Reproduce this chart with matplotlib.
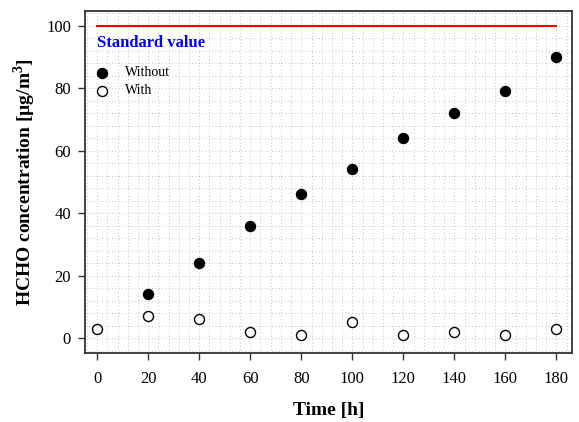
import numpy as np
import matplotlib.pyplot as plt

# HCHO concentration over time, with and without treatment
time_without = [20, 40, 60, 80, 100, 120, 140, 160, 180]
conc_without = [14, 24, 36, 46, 54, 64, 72, 79, 90]
time_with = [0, 20, 40, 60, 80, 100, 120, 140, 160, 180]
conc_with = [3, 7, 6, 2, 1, 5, 1, 2, 1, 3]
standard_x = [0, 180]
standard_value = 100
x_ticks = list(range(0, 181, 20))
y_ticks = list(range(0, 101, 20))

plt.rcParams['font.family'] = ['Liberation Serif', 'DejaVu Serif']
plt.rcParams['mathtext.fontset'] = 'custom'
plt.rcParams['mathtext.rm'] = 'Liberation Serif:bold'
plt.rcParams['mathtext.bf'] = 'Liberation Serif:bold'

fig = plt.figure(figsize=(5.79, 4.22), dpi=100)
ax = fig.add_axes([0.1468, 0.1635, 0.8406, 0.811])

ax.set_xlim(-4.8, 186)
ax.set_ylim(-4.8, 104.8)

# fine dotted grid like the original
for gx in np.arange(-4, 186, 4):
    ax.axvline(gx, color='#b0b0b0', lw=0.6, ls=(0, (1, 3)), zorder=0)
for gy in np.arange(-4, 105, 4):
    ax.axhline(gy, color='#b0b0b0', lw=0.6, ls=(0, (1, 3)), zorder=0)

ax.plot(standard_x, [standard_value] * 2, color='red', lw=1.5, zorder=2)
ax.text(0, 94.5, 'Standard value', color='blue', fontsize=12, fontweight='bold',
        va='center', ha='left')

ax.scatter(time_without, conc_without, s=52, c='black', edgecolors='black',
           linewidths=1, label='Without', zorder=3)
ax.scatter(time_with, conc_with, s=52, facecolors='white', edgecolors='black',
           linewidths=1, label='With', zorder=3)

leg = ax.legend(loc='upper left', bbox_to_anchor=(-0.01, 0.862), frameon=False,
                fontsize=10, handletextpad=0.6, labelspacing=0.35,
                borderaxespad=0.2)

ax.set_xticks(x_ticks)
ax.set_yticks(y_ticks)
ax.tick_params(direction='out', length=5, width=1, labelsize=12, color='#333333')
ax.tick_params(axis='x', pad=8)
ax.tick_params(axis='y', pad=5)
for s in ax.spines.values():
    s.set_color('#333333')
    s.set_linewidth(1.3)

ax.set_xlabel('Time [h]', fontsize=14, fontweight='bold', labelpad=11)
ax.set_ylabel('HCHO concentration [\u00b5g/m$^{3}$]', fontsize=14,
              fontweight='bold', labelpad=6)

fig.savefig('out.png', dpi=100)
